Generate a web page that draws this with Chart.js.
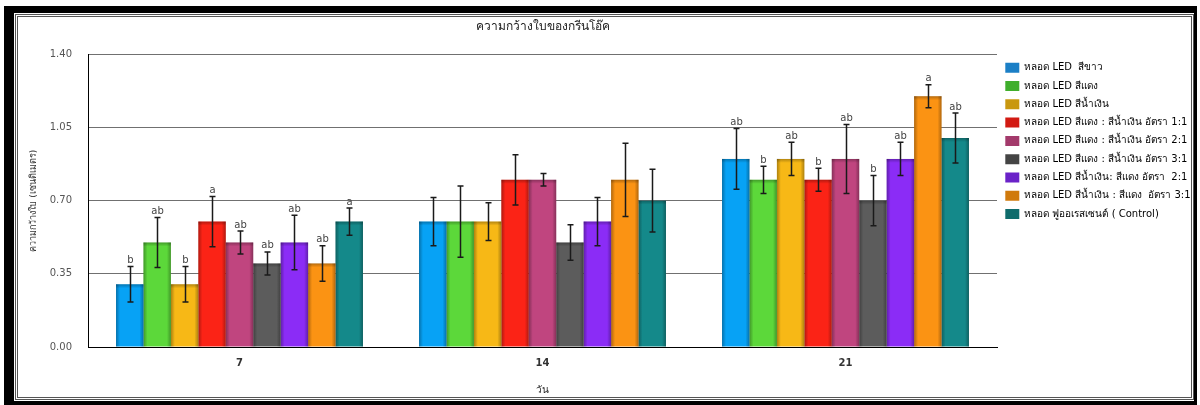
<!DOCTYPE html>
<html>
<head>
<meta charset="utf-8">
<script src="https://cdn.jsdelivr.net/npm/chart.js@4"></script>
<style>
  html, body { margin: 0; padding: 0; background: #fff; }
  #wrap { position: relative; width: 1200px; height: 405px; overflow: hidden; }
  #chart { position: absolute; left: 0; top: 0; }
  .frame-outer {
    position: absolute; left: 4px; top: 6px; width: 1180px; height: 388px;
    border-left: 10px solid #000; border-top: 7px solid #000;
    border-right: 3px solid #000; border-bottom: 4px solid #000;
    pointer-events: none;
  }
  .frame-inner {
    position: absolute; left: 1px; top: 1px; right: 0; bottom: 1px;
    border: 3px double #555;
  }
</style>
</head>
<body>
<div id="wrap">
  <canvas id="chart" width="1200" height="405"></canvas>
  <div class="frame-outer"><div class="frame-inner"></div></div>
</div>
<script>
// วันที่วัด
const days = ['7', '14', '21'];

// ชุดการทดลอง (หลอดไฟ)
const treatments = [
  'หลอด LED  สีขาว',
  'หลอด LED สีแดง',
  'หลอด LED สีน้ำเงิน',
  'หลอด LED สีแดง : สีน้ำเงิน อัตรา 1:1',
  'หลอด LED สีแดง : สีน้ำเงิน อัตรา 2:1',
  'หลอด LED สีแดง : สีน้ำเงิน อัตรา 3:1',
  'หลอด LED สีน้ำเงิน: สีแดง อัตรา  2:1',
  'หลอด LED สีน้ำเงิน : สีแดง  อัตรา 3:1',
  'หลอด ฟูออเรสเซนต์ ( Control)'
];

// ความกว้างใบเฉลี่ย (ซม.) แยกตามวัน เรียงตาม treatments
const widthDay7  = [0.30, 0.50, 0.30, 0.60, 0.50, 0.40, 0.50, 0.40, 0.60];
const widthDay14 = [0.60, 0.60, 0.60, 0.80, 0.80, 0.50, 0.60, 0.80, 0.70];
const widthDay21 = [0.90, 0.80, 0.90, 0.80, 0.90, 0.70, 0.90, 1.20, 1.00];

// ค่าความคลาดเคลื่อน (±)
const errDay7  = [0.085, 0.12, 0.085, 0.12, 0.055, 0.055, 0.13, 0.085, 0.065];
const errDay14 = [0.115, 0.17, 0.09, 0.12, 0.03, 0.085, 0.115, 0.175, 0.15];
const errDay21 = [0.145, 0.065, 0.08, 0.055, 0.165, 0.12, 0.08, 0.055, 0.12];

// อักษรแสดงความแตกต่างทางสถิติ
const lettersDay7  = ['b', 'ab', 'b', 'a', 'ab', 'ab', 'ab', 'ab', 'a'];
const lettersDay14 = ['', '', '', '', '', '', '', '', ''];
const lettersDay21 = ['ab', 'b', 'ab', 'b', 'ab', 'b', 'ab', 'a', 'ab'];

// แกน y
const yTicks = [0, 0.35, 0.70, 1.05, 1.40];

const barColors = ['#07a2f5', '#5cd83a', '#f7b816', '#fb2316', '#c0457f',
                   '#5c5c5c', '#8b2cf6', '#fb9313', '#14898a'];
const swatchColors = ['#1b7fc6', '#3fae2c', '#c9980f', '#d21a12', '#a33a6b',
                      '#444444', '#6a22c8', '#d07a0c', '#0f6c6c'];

const byDay = (arrs, i) => arrs.map(a => a[i]);
const datasets = treatments.map((name, i) => ({
  label: name,
  data: byDay([widthDay7, widthDay14, widthDay21], i),
  errors: byDay([errDay7, errDay14, errDay21], i),
  letters: byDay([lettersDay7, lettersDay14, lettersDay21], i),
  backgroundColor: barColors[i],
  borderWidth: 0,
  categoryPercentage: 0.815,
  barPercentage: 1.0
}));

const FONT = "'DejaVu Sans', Tahoma, sans-serif";

// เงาขอบแท่งให้ดูนูน
const barShade = {
  id: 'barShade',
  afterDatasetsDraw(chart) {
    const ctx = chart.ctx;
    ctx.save();
    chart.data.datasets.forEach((ds, di) => {
      chart.getDatasetMeta(di).data.forEach(bar => {
        const l = bar.x - bar.width / 2, r = bar.x + bar.width / 2;
        const t = bar.y, b = bar.base;
        const s = 4;
        let g = ctx.createLinearGradient(l, 0, l + s, 0);
        g.addColorStop(0, 'rgba(0,0,0,0.3)'); g.addColorStop(1, 'rgba(0,0,0,0)');
        ctx.fillStyle = g; ctx.fillRect(l, t, s, b - t);
        g = ctx.createLinearGradient(r, 0, r - s, 0);
        g.addColorStop(0, 'rgba(0,0,0,0.3)'); g.addColorStop(1, 'rgba(0,0,0,0)');
        ctx.fillStyle = g; ctx.fillRect(r - s, t, s, b - t);
        g = ctx.createLinearGradient(0, t, 0, t + s);
        g.addColorStop(0, 'rgba(0,0,0,0.28)'); g.addColorStop(1, 'rgba(0,0,0,0)');
        ctx.fillStyle = g; ctx.fillRect(l, t, r - l, s);
      });
    });
    ctx.restore();
  }
};

// เส้น error bar และอักษรกำกับ
const errorBars = {
  id: 'errorBars',
  afterDatasetsDraw(chart) {
    const ctx = chart.ctx;
    const y = chart.scales.y;
    ctx.save();
    ctx.strokeStyle = '#1a1a1a';
    ctx.lineWidth = 1.5;
    ctx.font = '10px ' + FONT;
    ctx.fillStyle = '#444';
    ctx.textAlign = 'center';
    ctx.textBaseline = 'bottom';
    chart.data.datasets.forEach((ds, di) => {
      chart.getDatasetMeta(di).data.forEach((bar, i) => {
        const v = ds.data[i], e = ds.errors[i];
        const yt = y.getPixelForValue(v + e), yb = y.getPixelForValue(v - e);
        const x = Math.round(bar.x) + 0.5;
        ctx.beginPath();
        ctx.moveTo(x, yt); ctx.lineTo(x, yb);
        ctx.moveTo(x - 3, yt); ctx.lineTo(x + 3, yt);
        ctx.moveTo(x - 3, yb); ctx.lineTo(x + 3, yb);
        ctx.stroke();
        if (ds.letters[i]) ctx.fillText(ds.letters[i], x, yt - 1);
      });
    });
    ctx.restore();
  }
};

// ความกว้างกล่องคำอธิบาย
const legendWidth = {
  id: 'legendWidth',
  beforeInit(chart) {
    const fit = chart.legend.fit;
    chart.legend.fit = function () {
      fit.call(this);
      this.width = 199;
    };
  }
};

new Chart(document.getElementById('chart'), {
  type: 'bar',
  data: { labels: days, datasets },
  plugins: [barShade, errorBars, legendWidth],
  options: {
    responsive: false,
    animation: false,
    layout: { padding: { left: 22, right: 4, top: 0, bottom: 9 } },
    plugins: {
      title: {
        display: true,
        text: 'ความกว้างใบของกรีนโอ๊ค',
        fullSize: false,
        color: '#222',
        font: { family: FONT, size: 12, weight: 'normal' },
        padding: { top: 20, bottom: 20 }
      },
      legend: {
        position: 'right',
        align: 'start',
        fullSize: false,
        labels: {
          boxWidth: 14,
          boxHeight: 10,
          padding: 8.3,
          color: '#222',
          font: { family: FONT, size: 10 },
          generateLabels(chart) {
            return chart.data.datasets.map((ds, i) => ({
              text: ds.label,
              fillStyle: swatchColors[i],
              strokeStyle: swatchColors[i],
              lineWidth: 0,
              datasetIndex: i
            }));
          }
        }
      },
      tooltip: { enabled: false }
    },
    scales: {
      x: {
        grid: { display: false, drawTicks: false },
        border: { display: true, color: '#000', width: 1 },
        ticks: { color: '#333', padding: 10, font: { family: FONT, size: 10, weight: 'bold' } },
        title: {
          display: true, text: 'วัน', color: '#222',
          font: { family: FONT, size: 10 }, padding: { top: 4, bottom: 0 }
        },
        afterFit(scale) { scale.height = 49; }
      },
      y: {
        min: 0,
        max: 1.4,
        afterBuildTicks(scale) { scale.ticks = yTicks.map(v => ({ value: v })); },
        grid: { color: '#707070', drawTicks: false },
        border: { display: true, color: '#000', width: 1 },
        ticks: {
          color: '#555', padding: 16,
          font: { family: FONT, size: 10 },
          callback: v => Number(v).toFixed(2)
        },
        title: {
          display: true, text: 'ความกว้างใบ (เซนติเมตร)', color: '#333',
          font: { family: FONT, size: 9 }, padding: { top: 6, bottom: 0 }
        },
        afterFit(scale) { scale.width = 66; }
      }
    }
  }
});
</script>
</body>
</html>
